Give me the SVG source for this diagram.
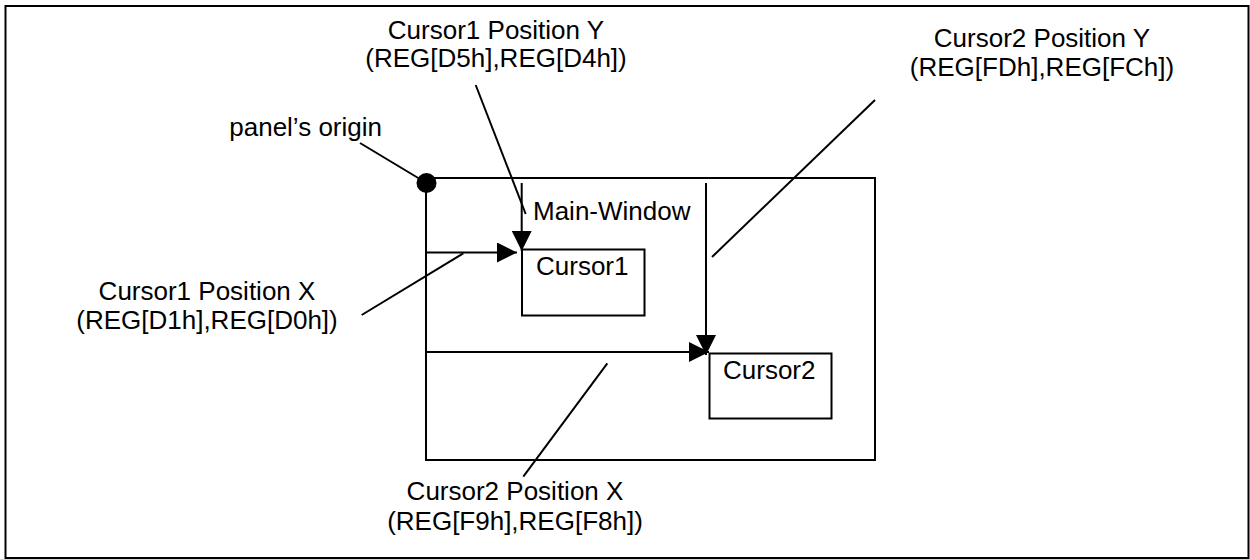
<svg xmlns="http://www.w3.org/2000/svg" width="1250" height="559" viewBox="0 0 1250 559">
<style>
text{font-family:"Liberation Sans",Arial,sans-serif;font-size:26px;fill:#000}
.ln{stroke:#000;stroke-width:2;fill:none}
.box{stroke:#000;stroke-width:2;fill:#fff}
</style>
<defs>
<marker id="ah" markerUnits="userSpaceOnUse" markerWidth="20" markerHeight="20" viewBox="0 0 20 20" refX="20" refY="10" orient="auto">
<path d="M0,0 L20,10 L0,20 Z" fill="#000"/>
</marker>
</defs>
<rect x="5.5" y="6" width="1243" height="552" fill="#fff" stroke="#000" stroke-width="2"/>
<g id="main-window">
<rect class="box" x="426" y="178" width="449" height="282"/>
<text x="533" y="220">Main-Window</text>
</g>
<g id="cursor1">
<rect class="box" x="522" y="249.5" width="122.5" height="66"/>
<text x="536" y="275">Cursor1</text>
</g>
<g id="cursor2">
<rect class="box" x="709.5" y="353.5" width="122" height="65"/>
<text x="723" y="379">Cursor2</text>
</g>
<g id="origin">
<circle cx="426.5" cy="183" r="10" fill="#000"/>
<text x="382" y="136" text-anchor="end">panel’s origin</text>
</g>
<g id="label-c1y">
<text x="496" y="38.5" text-anchor="middle">Cursor1 Position Y</text>
<text x="496" y="67" text-anchor="middle">(REG[D5h],REG[D4h])</text>
</g>
<g id="label-c2y">
<text x="1042" y="47" text-anchor="middle">Cursor2 Position Y</text>
<text x="1042" y="76" text-anchor="middle">(REG[FDh],REG[FCh])</text>
</g>
<g id="label-c1x">
<text x="207" y="300" text-anchor="middle">Cursor1 Position X</text>
<text x="207" y="329" text-anchor="middle">(REG[D1h],REG[D0h])</text>
</g>
<g id="label-c2x">
<text x="515" y="500" text-anchor="middle">Cursor2 Position X</text>
<text x="515" y="530" text-anchor="middle">(REG[F9h],REG[F8h])</text>
</g>
<g id="connectors">
<line class="ln" x1="426" y1="252.5" x2="517" y2="252.5" marker-end="url(#ah)"/>
<line class="ln" x1="521.7" y1="183" x2="521.7" y2="251" marker-end="url(#ah)"/>
<line class="ln" x1="426" y1="352" x2="709" y2="352" marker-end="url(#ah)"/>
<line class="ln" x1="706" y1="183" x2="706" y2="355" marker-end="url(#ah)"/>
<line class="ln" x1="360" y1="143" x2="426.5" y2="183"/>
<line class="ln" x1="475.7" y1="85" x2="525.7" y2="214"/>
<line class="ln" x1="361.7" y1="315" x2="463.3" y2="253.3"/>
<line class="ln" x1="875" y1="100" x2="712" y2="257"/>
<line class="ln" x1="607.3" y1="363.3" x2="523.3" y2="476.7"/>
</g>
</svg>
